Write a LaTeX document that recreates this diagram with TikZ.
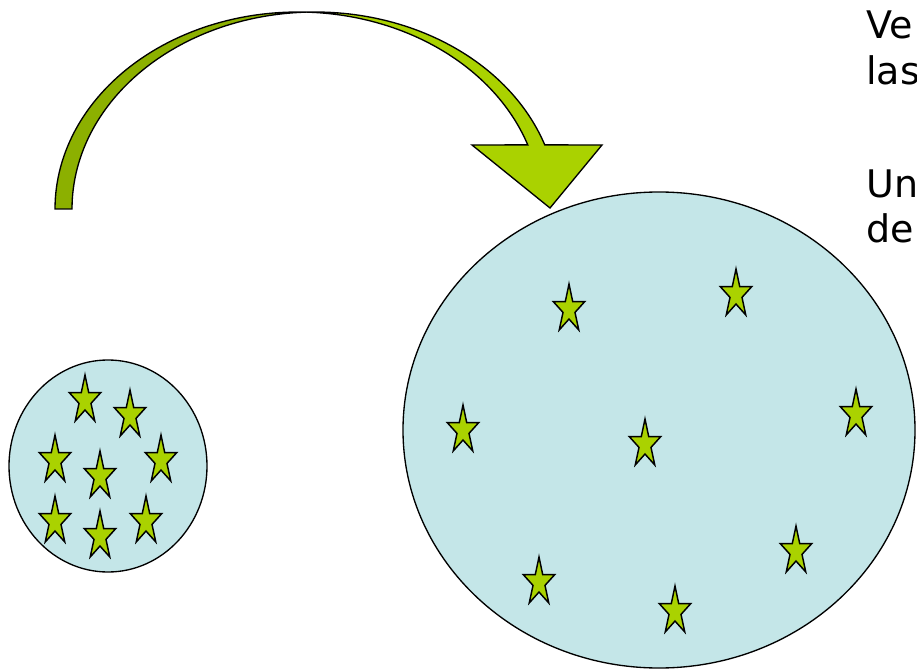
\documentclass[tikz,border=0pt]{standalone}
\usepackage{fontspec}
\setmainfont{DejaVu Sans}
\definecolor{cellblue}{RGB}{196,230,232}
\definecolor{stargreen}{RGB}{170,210,0}
\definecolor{arrowdark}{RGB}{140,176,0}
\tikzset{
  circsty/.style={draw=black,line width=1pt,fill=cellblue},
  starsty/.style={draw=black,line width=1.1pt,fill=stargreen,line join=miter},
  arrowsty/.style={draw=black,line width=1pt,line join=miter},
  textsty/.style={anchor=base west,inner sep=0pt,font=\fontsize{28.5}{34}\selectfont},
  starpic/.pic={\path[starsty] (90:16.6 and -25.4) -- (126:6.31 and -9.65) -- (162:16.6 and -25.4) -- (198:6.31 and -9.65) -- (234:16.6 and -25.4) -- (270:6.31 and -9.65) -- (306:16.6 and -25.4) -- (342:6.31 and -9.65) -- (18:16.6 and -25.4) -- (54:6.31 and -9.65) -- cycle;}
}
\begin{document}
\begin{tikzpicture}[x=0.75pt,y=-0.75pt]
\useasboundingbox (0,0) rectangle (917,670);
\begin{scope}
\clip (0,0) rectangle (917,670);
% small cell
\path[circsty] (108,466) ellipse [x radius=99, y radius=106];
\foreach \px/\py in {85/398,130/413,55/458,100/474,161/458,55/519,100/534,146/519}
  \pic at (\px,\py+2.4) {starpic};
% big cell
\path[circsty] (659,430) ellipse [x radius=256, y radius=238];
\foreach \px/\py in {569/307,736/292,463/428,645/442,856/412,539/580,675/609,796/549}
  \pic at (\px,\py+2.4) {starpic};
% curved arrow: back (dark) part
\path[arrowsty,fill=arrowdark] plot[domain=180:272,samples=60] ({298+243*cos(\x)},{209+197*sin(\x)})
  -- plot[domain=268:180,samples=60] ({315+243*cos(\x)},{209+197*sin(\x)}) -- cycle;
% curved arrow: front (light) part with head
\path[arrowsty,fill=stargreen] plot[domain=268:341,samples=60] ({315+243*cos(\x)},{209+197*sin(\x)})
  -- (602,145) -- (550,208) -- (472,145)
  -- plot[domain=341:272,samples=60] ({298+243*cos(\x)},{209+197*sin(\x)}) -- cycle;
% text (cut off at the right edge, as in the reference)
\node[textsty] (t1) at (866,39) {Ve};
\node[textsty] (t2) at (866,85) {las};
\node[textsty] (t3) at (866,198) {Un};
\node[textsty] (t4) at (866,243) {de};
\end{scope}
\end{tikzpicture}
\end{document}
